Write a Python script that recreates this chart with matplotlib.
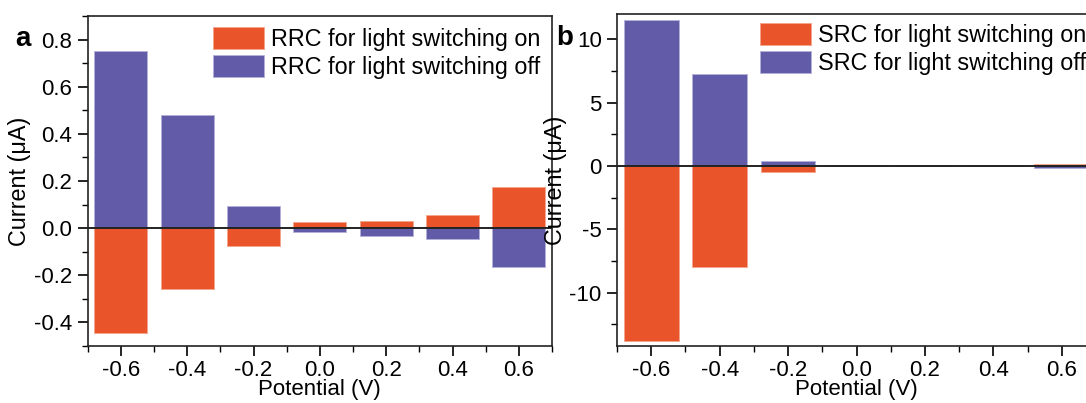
import numpy as np
import matplotlib
matplotlib.use('Agg')
import matplotlib.pyplot as plt
from matplotlib.ticker import MultipleLocator

plt.rcParams['font.family'] = ['Liberation Sans', 'DejaVu Sans']
plt.rcParams['axes.unicode_minus'] = False

# potentials (V)
potential = [-0.6, -0.4, -0.2, 0.0, 0.2, 0.4, 0.6]

# panel a: RRC currents (uA)
rrc_on = [-0.445, -0.26, -0.075, 0.024, 0.032, 0.057, 0.173]
rrc_off = [0.75, 0.478, 0.095, -0.016, -0.033, -0.047, -0.166]

# panel b: SRC currents (uA)
src_on = [-13.8, -7.95, -0.47, -0.02, -0.02, -0.02, 0.2]
src_off = [11.5, 7.3, 0.37, 0.02, 0.02, 0.02, -0.15]

c_on = '#e9542b'
c_off = '#625ba7'
fs = 16
fs_leg = 16.8

W, H = 1086, 403
fig = plt.figure(figsize=(W / 100, H / 100), dpi=100)


def px_axes(left, right, top, bottom):
    return fig.add_axes([left / W, 1 - bottom / H, (right - left) / W, (bottom - top) / H])


def fmt1(v, p):
    return '0.0' if abs(v) < 1e-9 else '%.1f' % v


def draw_panel(ax, on, off, names, ylim, major, minor, leg_xy):
    b1 = ax.bar(potential, on, width=0.16, color=c_on, edgecolor='#f3a58d', linewidth=0.6,
                label=names[0], zorder=2)
    b2 = ax.bar(potential, off, width=0.16, color=c_off, edgecolor='#b4b1da', linewidth=0.6,
                label=names[1], zorder=2)
    ax.axhline(0, color='#222222', lw=1.4, zorder=3)
    ax.set_xlim(-0.7, 0.7)
    ax.set_ylim(*ylim)
    ax.xaxis.set_major_locator(MultipleLocator(0.2))
    ax.xaxis.set_minor_locator(MultipleLocator(0.1))
    ax.yaxis.set_major_locator(MultipleLocator(major))
    ax.yaxis.set_minor_locator(MultipleLocator(minor))
    ax.xaxis.set_major_formatter(plt.FuncFormatter(fmt1))
    ax.tick_params(which='major', direction='out', length=7, width=1.2, labelsize=fs, pad=4,
                   top=False, right=False)
    ax.tick_params(axis='x', which='major', pad=3)
    ax.tick_params(which='minor', direction='out', length=4, width=1.0, top=False, right=False)
    for s in ax.spines.values():
        s.set_linewidth(1.2)
        s.set_color('#222222')
    ax.set_xlabel('Potential (V)', fontsize=fs, labelpad=-1)
    ax.set_ylabel('Current (μA)', fontsize=fs_leg, labelpad=2)
    ax.legend(handles=[b1, b2], loc='upper left', bbox_to_anchor=(leg_xy[0] / W, 1 - leg_xy[1] / H),
              bbox_transform=fig.transFigure, frameon=False, fontsize=fs_leg, borderpad=0,
              borderaxespad=0, handlelength=2.2, handleheight=1.05, handletextpad=0.3,
              labelspacing=0.2)


ax1 = px_axes(87.7, 552, 16, 346)
draw_panel(ax1, rrc_on, rrc_off, ['RRC for light switching on', 'RRC for light switching off'],
           (-0.5, 0.9), 0.2, 0.1, (213, 27))
ax1.yaxis.set_major_formatter(plt.FuncFormatter(fmt1))

ax2 = px_axes(617, 1096, 14, 346)
draw_panel(ax2, src_on, src_off, ['SRC for light switching on', 'SRC for light switching off'],
           (-14.2, 12.0), 5, 2.5, (760, 23))
ax2.yaxis.set_major_formatter(plt.FuncFormatter(lambda v, p: '%d' % round(v)))

fig.text(15 / W, 1 - 46 / H, 'a', fontsize=20, fontweight='bold', va='baseline')
fig.text(556 / W, 1 - 45 / H, 'b', fontsize=20, fontweight='bold', va='baseline')

fig.savefig('out.png', dpi=100)
